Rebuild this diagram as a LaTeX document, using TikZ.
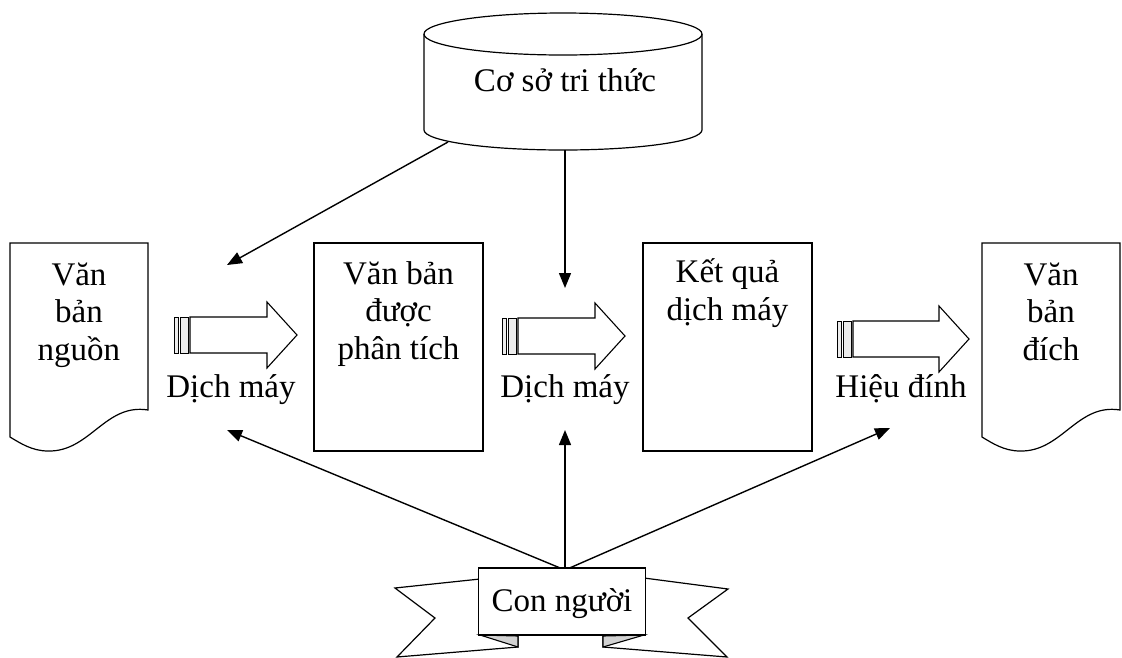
\documentclass[tikz,border=0pt]{standalone}
\usepackage{fontspec}
\setmainfont{Liberation Serif}
\usetikzlibrary{arrows.meta,calc,positioning}

\tikzset{
  box/.style={draw, line width=1.2pt, minimum width=169pt, minimum height=208pt, inner sep=0pt},
  txt/.style={font=\fontsize{33}{37.5}\selectfont, align=center, inner sep=0pt},
  link/.style={line width=1.4pt, -{Triangle[length=15pt,width=12pt]}},
  fat/.style={draw, line width=1.1pt, fill=white},
  stripe/.style={draw, line width=0.8pt, fill=gray!15},
  outline/.style={draw, line width=1.2pt, fill=white}
}

\begin{document}
\begin{tikzpicture}[x=1pt,y=-1pt]
\useasboundingbox (0,0) rectangle (1122,657);

% documents at both ends
\path[outline] (10,243) -- (148,243) -- (148,410) .. controls (105,403) and (90,452) .. (48,451) .. controls (32,451) and (20,443) .. (10,437) -- cycle;
\path[outline] (982,243) -- (1120,243) -- (1120,410) .. controls (1077,403) and (1062,452) .. (1020,451) .. controls (1004,451) and (992,443) .. (982,437) -- cycle;
% (base of a multi-line node = last line)
\node[txt, anchor=base] (nguon) at (79,360) {Văn\\bản\\nguồn};
\node[txt, anchor=base] (dich) at (1051,360) {Văn\\bản\\đích};

% middle boxes
\node[box] (phantich) at (398.5,347) {};
\node[box] (ketqua) at (727.5,347) {};
\node[txt, anchor=base] (tphantich) at ($(phantich.north)+(0,117)$) {Văn bản\\được\\phân tích};
\node[txt, anchor=base] (tketqua) at ($(ketqua.north)+(0,78)$) {Kết quả\\dịch máy};

% knowledge base
\path[outline] (424,34) -- (424,130) arc[start angle=180, end angle=360, x radius=139pt, y radius=20pt] -- (702,34);
\draw[line width=1.2pt] (563,34) ellipse [x radius=139pt, y radius=21pt];
\node[txt, anchor=base] (kb) at (565,91) {Cơ sở tri thức};

% big arrows with stripes
\foreach \x/\y/\l in {174/335/123, 502/336/123, 837/339/132}{
  \path[stripe] (\x,\y-18) rectangle ++(4,36);
  \path[stripe] (\x+6,\y-18) rectangle ++(8,36);
  \path[fat] (\x+16,\y-18) -- (\x+\l-30,\y-18) -- (\x+\l-30,\y-33) -- (\x+\l,\y)
    -- (\x+\l-30,\y+33) -- (\x+\l-30,\y+18) -- (\x+16,\y+18) -- cycle;
}
\node[txt, anchor=base] (dm1) at (231,397) {Dịch máy};
\node[txt, anchor=base] (dm2) at (565,397) {Dịch máy};
\node[txt, anchor=base] (hd) at (901,397) {Hiệu đính};

% connectors
\coordinate (kbl) at (448,142);
\coordinate (kbb) at (565,150);
\coordinate (in1) at (227,265);
\coordinate (in2) at (565,288);
\coordinate (up1) at (227,430);
\coordinate (up2) at (565,430);
\coordinate (up3) at (890,428);
\coordinate (ng) at (565,570);
\draw[link] (kbl) -- (in1);
\draw[link] (kbb) -- (in2);
\draw[link] (ng) -- (up1);
\draw[link] (ng) -- (up2);
\draw[link] (ng) -- (up3);

% ribbon
\path[outline] (480,579) -- (395,588) -- (435,618) -- (397,657) -- (518,647) -- (518,630) -- cycle;
\path[outline] (644,578) -- (728,589) -- (688,618) -- (727,657) -- (603,647) -- (603,630) -- cycle;
\draw[line width=1.1pt, fill=gray!35] (480,635) -- (518,647) -- (518,636) -- cycle;
\draw[line width=1.1pt, fill=gray!35] (644,635) -- (603,647) -- (603,636) -- cycle;
\node[draw, line width=1.2pt, fill=white, minimum width=167pt, minimum height=67pt, inner sep=0pt] (nguoi) at (562,601.5) {};
\node[txt, anchor=base] (tnguoi) at (562,611) {Con người};
\end{tikzpicture}
\end{document}
